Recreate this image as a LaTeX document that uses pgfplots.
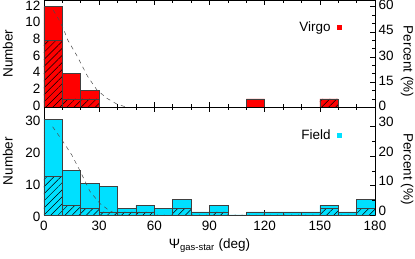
\documentclass[border=0pt]{standalone}
\usepackage{pgfplots}
\pgfplotsset{compat=1.18}
\usepackage{fontspec}
\setmainfont{Liberation Sans}
\usetikzlibrary{patterns.meta}
\definecolor{vred}{RGB}{255,0,0}
\definecolor{fcyan}{RGB}{0,224,255}
\newcommand{\fs}{\fontsize{13.5}{16}\selectfont}
\pgfplotsset{
  base/.style={
    width=331pt, scale only axis, xmin=0, xmax=180,
    tick align=inside, major tick length=5pt, minor tick length=3pt,
    /pgf/number format/assume math mode=true,
    tick label style={font=\fs},
    xticklabel style={yshift=-2.5pt},
    axis line style={line width=0.7pt},
    every tick/.style={black, line width=0.6pt},
    clip=false,
    xtick={0,30,...,180}, minor x tick num=2,
  },
  pct/.style={
    width=331pt, scale only axis, xmin=0, xmax=180,
    axis x line=none, axis y line*=right,
    tick align=inside, major tick length=5pt, minor tick length=3pt,
    /pgf/number format/assume math mode=true,
    tick label style={font=\fs},
    yticklabel style={yshift=1.5pt},
    axis line style={line width=0.7pt},
    every tick/.style={black, line width=0.6pt},
    clip=false,
  },
  full/.style={ybar interval, fill=#1, draw=black!75, line width=0.6pt, forget plot},
  hatch/.style={ybar interval, draw=black!75, line width=0.6pt, forget plot,
    pattern={Lines[angle=45,distance=5pt,line width=0.5pt]}, pattern color=black},
  curve/.style={black!70, line width=0.5pt, dash pattern=on 4pt off 4pt, forget plot},
  leg/.style={legend style={draw=none, fill=none, at={(rel axis cs:0.9,0.743)}, anchor=east,
    font=\fs, inner sep=0pt, column sep=5pt}, legend cell align=right, legend plot pos=right},
}
\begin{document}
\begin{tikzpicture}
% ---------------- upper panel (Virgo) ----------------
\begin{axis}[base, leg, at={(0,107.7pt)}, height=107.2pt, ymin=0, ymax=12.8,
  ytick={0,2,...,12}, minor y tick num=1, ytick pos=left, xticklabels={},
  yticklabel style={yshift=1.5pt}]
\addlegendimage{only marks, mark=square*, mark size=2pt, color=vred}
\addlegendentry{Virgo}
\addplot[full=vred] coordinates {(0,12)(10,4)(20,2)(30,0)(40,0)(50,0)(60,0)(70,0)(80,0)(90,0)(100,0)(110,1)(120,0)(130,0)(140,0)(150,1)(160,0)(170,0)(180,0)};
\addplot[hatch] coordinates {(0,8)(10,1)(20,1)(30,0)(40,0)(50,0)(60,0)(70,0)(80,0)(90,0)(100,0)(110,0)(120,0)(130,0)(140,0)(150,1)(160,0)(170,0)(180,0)};
\addplot[curve] coordinates {(5,11.6)(8,10.5)(10.5,9.4)(13,8)(17.8,6.2)(23.7,3.7)(28.7,2.1)(34,1.1)(39.5,0.4)(45,0)};
\node[rotate=90, font=\fs] at (rel axis cs:-0.109,0.5) {Number};
\end{axis}
\begin{axis}[pct, at={(0,107.7pt)}, height=107.2pt, ymin=0, ymax=64,
  ytick={0,15,...,60}, minor y tick num=2]
\addplot[draw=none] coordinates {(0,0)};
\node[rotate=-90, font=\fs] at (rel axis cs:1.097,0.426) {Percent (\%)};
\end{axis}
% ---------------- lower panel (Field) ----------------
\begin{axis}[base, leg, at={(0,0)}, height=107.7pt, ymin=0, ymax=33.7,
  ytick={0,10,20,30}, minor y tick num=9, ytick pos=left,
  yticklabel style={yshift=-1.5pt},
  xlabel={\fs Ψ\textsubscript{gas-star} (deg)}, xlabel style={yshift=-1pt}]
\addlegendimage{only marks, mark=square*, mark size=2pt, color=fcyan}
\addlegendentry{Field}
\addplot[full=fcyan] coordinates {(0,30)(10,14)(20,10)(30,9)(40,2)(50,3)(60,2)(70,5)(80,1)(90,3)(100,0)(110,1)(120,1)(130,1)(140,1)(150,3)(160,1)(170,5)(180,0)};
\addplot[hatch] coordinates {(0,12)(10,3)(20,2)(30,1)(40,1)(50,1)(60,0)(70,2)(80,0)(90,1)(100,0)(110,0)(120,0)(130,0)(140,0)(150,2)(160,0)(170,2)(180,0)};
\addplot[curve] coordinates {(4.7,27.6)(9.6,23.6)(15,18.9)(19.6,13.8)(25,7.4)(30.4,3.6)(35.9,1.2)(41,0.2)};
\node[rotate=90, font=\fs] at (rel axis cs:-0.109,0.5) {Number};
\end{axis}
\begin{axis}[pct, at={(0,0)}, height=107.7pt, ymin=0, ymax=36.6,
  ytick={0,10,20,30}, minor y tick num=1, yticklabel style={yshift=3pt}]
\addplot[draw=none] coordinates {(0,0)};
\node[rotate=-90, font=\fs] at (rel axis cs:1.097,0.427) {Percent (\%)};
\end{axis}
\pgfresetboundingbox
\path (-44pt,-44pt) rectangle (371pt,215pt);
\end{tikzpicture}
\end{document}
